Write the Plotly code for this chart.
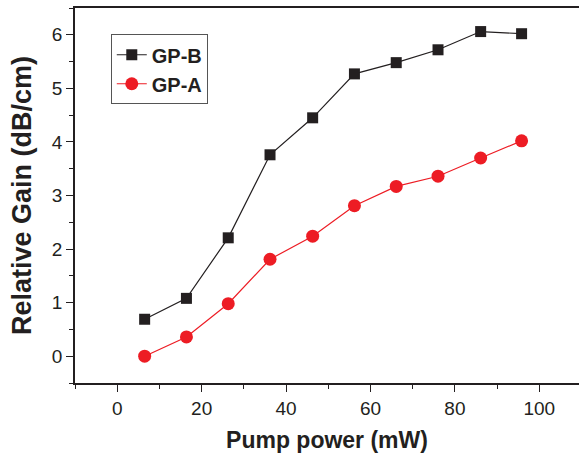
import plotly.graph_objects as go

pump_b = [6.5, 16.4, 26.3, 36.2, 46.3, 56.2, 66.1, 76.0, 86.1, 95.8]
gain_b = [0.69, 1.08, 2.21, 3.76, 4.45, 5.27, 5.48, 5.72, 6.06, 6.02]
pump_a = [6.5, 16.4, 26.3, 36.2, 46.3, 56.2, 66.1, 76.0, 86.1, 95.8]
gain_a = [0.0, 0.36, 0.98, 1.81, 2.24, 2.81, 3.17, 3.36, 3.70, 4.02]

BLACK = "#231f20"
RED = "#ed1c24"
FONT = "Liberation Sans, Arial, sans-serif"

fig = go.Figure()
fig.add_trace(go.Scatter(x=pump_b, y=gain_b, name="GP-B", mode="lines+markers",
                         line=dict(color=BLACK, width=1.2),
                         marker=dict(symbol="square", size=11, color=BLACK)))
fig.add_trace(go.Scatter(x=pump_a, y=gain_a, name="GP-A", mode="lines+markers",
                         line=dict(color=RED, width=1.2),
                         marker=dict(symbol="circle", size=13, color=RED)))

fig.update_layout(
    width=579, height=455,
    margin=dict(l=75, r=0, t=8, b=72),
    paper_bgcolor="white", plot_bgcolor="white",
    font=dict(family=FONT, color=BLACK),
    legend=dict(x=0.071, y=0.93, xanchor="left", yanchor="top",
                bordercolor="#555555", borderwidth=1, bgcolor="white",
                font=dict(size=20, family=FONT, color=BLACK, weight="bold"),
                tracegroupgap=0),
    showlegend=True,
)
fig.update_xaxes(range=[-10, 109.4], dtick=20, tick0=0, showgrid=False, zeroline=False,
                 showline=True, linecolor=BLACK, linewidth=1.5, mirror=True,
                 ticks="outside", ticklen=7, tickwidth=1.2, tickcolor=BLACK,
                 minor=dict(dtick=10, ticks="outside", ticklen=4, tickwidth=1.2, tickcolor=BLACK),
                 tickfont=dict(size=19, family=FONT, color=BLACK),
                 title=dict(text="Pump power (mW)", standoff=14,
                            font=dict(size=23, family=FONT, color=BLACK, weight="bold")))
fig.update_yaxes(range=[-0.5, 6.5], dtick=1, tick0=0, showgrid=False, zeroline=False,
                 showline=True, linecolor=BLACK, linewidth=1.5, mirror=False,
                 ticks="outside", ticklen=7, tickwidth=1.2, tickcolor=BLACK,
                 minor=dict(dtick=0.5, ticks="outside", ticklen=4, tickwidth=1.2, tickcolor=BLACK),
                 tickfont=dict(size=19, family=FONT, color=BLACK),
                 title=dict(text="Relative Gain (dB/cm)", standoff=12,
                            font=dict(size=27, family=FONT, color=BLACK, weight="bold")))

fig.write_html("out.html")
